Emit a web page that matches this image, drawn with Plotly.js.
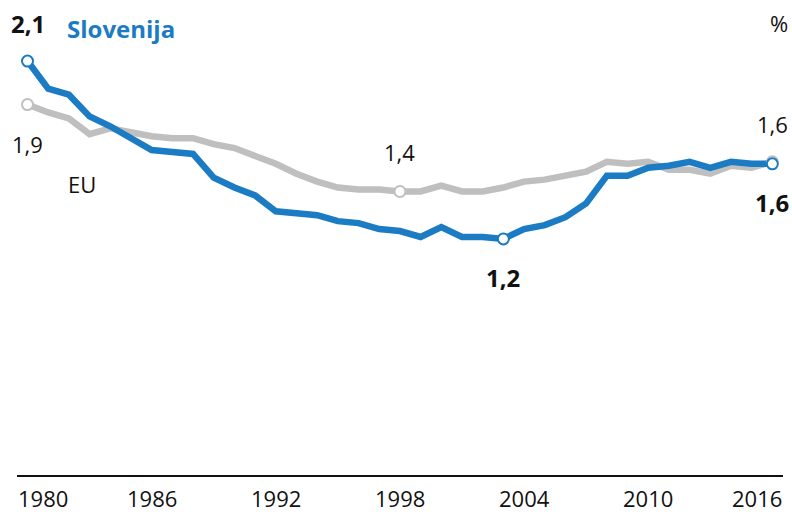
<!DOCTYPE html>
<html>
<head>
<meta charset="utf-8">
<script src="https://cdn.plot.ly/plotly-3.0.1.min.js"></script>
<style>
  html, body { margin: 0; padding: 0; background: #fff; }
  #chart { width: 792px; height: 515px; }
</style>
</head>
<body>
<div id="chart"></div>
<script>
// ---- data (total fertility rate) ----
const years = [1980, 1981, 1982, 1983, 1984, 1985, 1986, 1987, 1988, 1989,
               1990, 1991, 1992, 1993, 1994, 1995, 1996, 1997, 1998, 1999,
               2000, 2001, 2002, 2003, 2004, 2005, 2006, 2007, 2008, 2009,
               2010, 2011, 2012, 2013, 2014, 2015, 2016];
const slovenia = [2.10, 1.96, 1.93, 1.82, 1.77, 1.71, 1.65, 1.64, 1.63, 1.51,
                  1.46, 1.42, 1.34, 1.33, 1.32, 1.29, 1.28, 1.25, 1.24, 1.21,
                  1.26, 1.21, 1.21, 1.20, 1.25, 1.27, 1.31, 1.38, 1.52, 1.52,
                  1.56, 1.57, 1.59, 1.56, 1.59, 1.58, 1.58];
const eu = [1.88, 1.84, 1.81, 1.73, 1.76, 1.74, 1.72, 1.71, 1.71, 1.68,
            1.66, 1.62, 1.58, 1.53, 1.49, 1.46, 1.45, 1.45, 1.44, 1.44,
            1.47, 1.44, 1.44, 1.46, 1.49, 1.50, 1.52, 1.54, 1.59, 1.58,
            1.59, 1.55, 1.55, 1.53, 1.57, 1.56, 1.59];
const sloveniaMarkYears = [1980, 2003, 2016];
const euMarkYears = [1980, 1998, 2016];
const tickYears = [1980, 1986, 1992, 1998, 2004, 2010, 2016];
const tickLabels = ['1980', '1986', '1992', '1998', '2004', '2010', '2016'];
const seriesNames = ['Slovenija', 'EU'];
const unitLabel = '%';

// ---- styling ----
const BLUE = '#1b7bc3';
const GRAY = '#bfbfbf';
const INK = '#111111';
const FONT = '"Open Sans", "Noto Sans", sans-serif';
const W = 792, H = 515;
const px = (x) => x / W;
const py = (y) => 1 - y / H;

const valAt = (arr, yr) => arr[years.indexOf(yr)];
const fmt = (v) => v.toFixed(1).replace('.', ',');

const traces = [
  { x: years, y: eu, type: 'scatter', mode: 'lines', name: seriesNames[1],
    line: { color: GRAY, width: 6.5, shape: 'linear' }, hoverinfo: 'skip' },
  { x: years, y: slovenia, type: 'scatter', mode: 'lines', name: seriesNames[0],
    line: { color: BLUE, width: 6.5, shape: 'linear' }, hoverinfo: 'skip' },
  { x: euMarkYears, y: euMarkYears.map(yr => valAt(eu, yr)), type: 'scatter', mode: 'markers',
    marker: { size: 11, color: '#ffffff', line: { color: GRAY, width: 2 } }, hoverinfo: 'skip' },
  { x: sloveniaMarkYears, y: sloveniaMarkYears.map(yr => valAt(slovenia, yr)), type: 'scatter', mode: 'markers',
    marker: { size: 11, color: '#ffffff', line: { color: BLUE, width: 2 } }, hoverinfo: 'skip' }
];

const annotations = [];
// value labels at highlighted points
const slShift = [38, -39, -39];
sloveniaMarkYears.forEach((yr, i) => {
  annotations.push({ x: yr, y: valAt(slovenia, yr), xref: 'x', yref: 'y',
    text: '<b>' + fmt(valAt(slovenia, yr)) + '</b>', showarrow: false,
    xanchor: 'center', yanchor: 'middle', yshift: slShift[i],
    font: { family: FONT, size: 24, color: INK } });
});
const euShift = [-39, 39, 38];
euMarkYears.forEach((yr, i) => {
  annotations.push({ x: yr, y: valAt(eu, yr), xref: 'x', yref: 'y',
    text: fmt(valAt(eu, yr)), showarrow: false,
    xanchor: 'center', yanchor: 'middle', yshift: euShift[i],
    font: { family: FONT, size: 22, color: INK } });
});
// series names
annotations.push({ x: px(65), y: py(28), xref: 'paper', yref: 'paper', text: '<b>' + seriesNames[0] + '</b>',
  showarrow: false, xanchor: 'left', yanchor: 'middle', font: { family: FONT, size: 24, color: BLUE } });
annotations.push({ x: px(66), y: py(184), xref: 'paper', yref: 'paper', text: seriesNames[1],
  showarrow: false, xanchor: 'left', yanchor: 'middle', font: { family: FONT, size: 22, color: INK } });
// unit
annotations.push({ x: px(790), y: py(23), xref: 'paper', yref: 'paper', text: unitLabel,
  showarrow: false, xanchor: 'right', yanchor: 'middle', font: { family: FONT, size: 22, color: INK } });
// x tick labels
tickYears.forEach((yr, i) => {
  let anchor = 'center', shift = 0;
  if (i === 0) { anchor = 'left'; shift = -12; }
  if (i === tickYears.length - 1) { anchor = 'right'; shift = 12; }
  annotations.push({ x: yr, y: 0, xref: 'x', yref: 'paper', text: tickLabels[i],
    showarrow: false, xanchor: anchor, yanchor: 'bottom', xshift: shift, yshift: 0,
    font: { family: FONT, size: 22, color: INK } });
});

const layout = {
  width: W, height: H,
  margin: { l: 0, r: 0, t: 0, b: 0, pad: 0 },
  paper_bgcolor: '#ffffff', plot_bgcolor: '#ffffff',
  showlegend: false,
  hovermode: false,
  xaxis: { range: [1978.671, 2016.95], visible: false, fixedrange: true },
  yaxis: { range: [-0.197, 2.409], visible: false, fixedrange: true },
  shapes: [
    { type: 'line', xref: 'paper', yref: 'y', x0: px(17), x1: px(783), y0: 0, y1: 0,
      line: { color: INK, width: 2 } }
  ],
  annotations: annotations
};

Plotly.newPlot('chart', traces, layout, { displayModeBar: false, staticPlot: true });
</script>
</body>
</html>
